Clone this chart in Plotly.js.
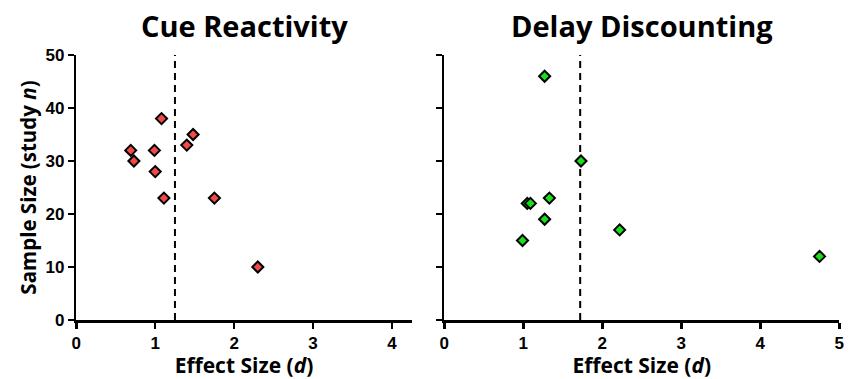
<!DOCTYPE html>
<html>
<head>
<meta charset="utf-8">
<script src="https://cdn.plot.ly/plotly-3.0.1.min.js"></script>
<style>html,body{margin:0;padding:0;background:#fff;}#chart{width:853px;height:379px;}</style>
</head>
<body>
<div id="chart"></div>
<script>
// Cue Reactivity (left panel)
const cueEffect = [1.08, 0.69, 0.99, 0.73, 1.00, 1.11, 1.40, 1.48, 1.75, 2.30];
const cueN      = [38,   32,   32,   30,   28,   23,   33,   35,   23,   10];
const cueThreshold = 1.25;

// Delay Discounting (right panel)
const ddEffect = [1.27, 1.73, 1.05, 1.09, 1.33, 1.27, 0.99, 2.22, 4.75];
const ddN      = [46,   30,   22,   22,   23,   19,   15,   17,   12];
const ddThreshold = 1.72;

const panelTitles = ["Cue Reactivity", "Delay Discounting"];
const xTitle = "Effect Size (<i>d</i>)";
const yTitle = "Sample Size (study <i>n</i>)";

const W = 853, H = 379;
const fx = p => p / W;
const fy = p => (H - p) / H;

const markerBase = {symbol: 'diamond', size: 8.5, line: {color: '#000', width: 2}};

const traces = [
  {x: cueEffect, y: cueN, type: 'scatter', mode: 'markers', xaxis: 'x', yaxis: 'y',
   marker: Object.assign({}, markerBase, {color: '#f24a4a'}), hoverinfo: 'x+y', showlegend: false},
  {x: ddEffect, y: ddN, type: 'scatter', mode: 'markers', xaxis: 'x2', yaxis: 'y2',
   marker: Object.assign({}, markerBase, {color: '#19e019'}), hoverinfo: 'x+y', showlegend: false}
];

const tickFont = {family: 'Liberation Sans, Arial, sans-serif', size: 17, color: '#000', weight: 'bold'};
const titleFont = {family: 'Open Sans, sans-serif', size: 21, color: '#000', weight: 'bold'};

const axisCommon = {
  showline: true, linecolor: '#000', linewidth: 2.5, mirror: false,
  ticks: 'outside', ticklen: 6, tickwidth: 2.5, tickcolor: '#000',
  showgrid: false, zeroline: false, tickfont: tickFont, fixedrange: true
};

const yDomain = [fy(320), fy(55)];

const layout = {
  width: W, height: H,
  margin: {l: 0, r: 0, t: 0, b: 0},
  paper_bgcolor: '#fff', plot_bgcolor: '#fff',
  showlegend: false,
  xaxis: Object.assign({}, axisCommon, {
    domain: [fx(76.3), fx(411.7)], range: [0, 4.25], tickvals: [0, 1, 2, 3, 4],
    anchor: 'y', title: {text: xTitle, font: titleFont, standoff: 2}
  }),
  yaxis: Object.assign({}, axisCommon, {
    domain: yDomain, range: [0, 50], tickvals: [0, 10, 20, 30, 40, 50],
    anchor: 'x', title: {text: yTitle, font: {family: 'Open Sans, sans-serif', size: 20.5, color: '#000', weight: 'bold'}, standoff: 4}
  }),
  xaxis2: Object.assign({}, axisCommon, {
    domain: [fx(444.3), fx(839.3)], range: [0, 5], tickvals: [0, 1, 2, 3, 4, 5],
    anchor: 'y2', title: {text: xTitle, font: titleFont, standoff: 2}
  }),
  yaxis2: Object.assign({}, axisCommon, {
    domain: yDomain, range: [0, 50], tickvals: [0, 10, 20, 30, 40, 50],
    showticklabels: false, anchor: 'x2'
  }),
  shapes: [
    {type: 'line', xref: 'x', yref: 'y', x0: cueThreshold, x1: cueThreshold, y0: 0, y1: 50,
     line: {color: '#000', width: 2, dash: '7px,5px'}, layer: 'below'},
    {type: 'line', xref: 'x2', yref: 'y2', x0: ddThreshold, x1: ddThreshold, y0: 0, y1: 50,
     line: {color: '#000', width: 2, dash: '7px,5px'}, layer: 'below'}
  ],
  annotations: [
    {text: panelTitles[0], xref: 'x domain', yref: 'paper', x: 0.5, y: fy(25), xanchor: 'center', yanchor: 'middle',
     showarrow: false, font: {family: 'Open Sans, sans-serif', size: 29, color: '#000', weight: 'bold'}},
    {text: panelTitles[1], xref: 'x2 domain', yref: 'paper', x: 0.5, y: fy(25), xanchor: 'center', yanchor: 'middle',
     showarrow: false, font: {family: 'Open Sans, sans-serif', size: 29, color: '#000', weight: 'bold'}}
  ]
};

Plotly.newPlot('chart', traces, layout, {displayModeBar: false, staticPlot: true});
</script>
</body>
</html>
